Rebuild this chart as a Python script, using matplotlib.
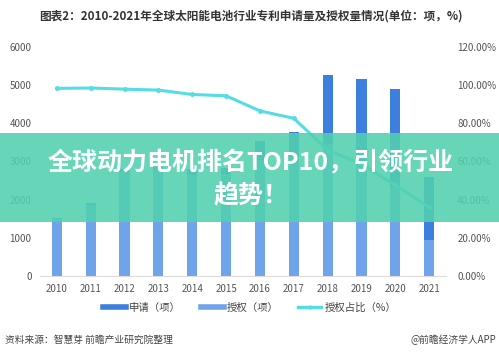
import numpy as np
import matplotlib.pyplot as plt
from matplotlib.patches import Rectangle
from matplotlib.lines import Line2D

plt.rcParams['font.family'] = ['Noto Sans CJK SC', 'DejaVu Sans']

years = ['2010', '2011', '2012', '2013', '2014', '2015', '2016', '2017', '2018', '2019', '2020', '2021']
applications = [1520, 1900, 2790, 2860, 2790, 2820, 3530, 3780, 5260, 5150, 4890, 2600]
grants = [1490, 1870, 2730, 2790, 2650, 2660, 3050, 3120, 3470, 3020, 2330, 940]
grant_ratio = [98.3, 98.5, 97.9, 97.4, 95.1, 94.4, 86.5, 82.6, 66.0, 58.6, 47.6, 36.0]

c_app = '#3d7fdc'
c_grant = '#6fa3ea'
c_line = '#55dce4'
c_text = '#555555'

fig = plt.figure(figsize=(4.99, 3.56), dpi=100)
ax = fig.add_axes([0.080, 0.225, 0.814, 0.643])
ax2 = ax.twinx()

x = np.arange(len(years))
w = 0.3
ax.bar(x, applications, width=w, color=c_app, zorder=2)
ax.bar(x, grants, width=w, color=c_grant, zorder=3)
ax2.plot(x, np.array(grant_ratio) / 100, color=c_line, lw=2.2, marker='o', ms=2.5, zorder=4)

ax.set_xlim(-0.5, len(years) - 0.5)
ax.set_ylim(0, 6000)
ax.set_yticks(range(0, 6001, 1000))
ax2.set_ylim(0, 1.2)
ax2.set_yticks(np.arange(0, 1.21, 0.2))
ax2.set_yticklabels([f'{v*100:.2f}%' for v in np.arange(0, 1.21, 0.2)])
ax.set_xticks(x)
ax.set_xticklabels(years)

for a in (ax, ax2):
    for s in ('top', 'left', 'right'):
        a.spines[s].set_visible(False)
    a.spines['bottom'].set_color('#dddddd')
    a.tick_params(length=0, labelsize=7, colors=c_text)
ax.tick_params(axis='x', pad=6)
ax.tick_params(axis='y', pad=6)
ax2.tick_params(axis='y', pad=8)

handles = [Line2D([0], [0], color=c_app, lw=4),
           Line2D([0], [0], color=c_grant, lw=4),
           Line2D([0], [0], color=c_line, lw=2.5, marker='o', ms=2)]
fig.legend(handles, ['申请（项）', '授权（项）', '授权占比（%）'], loc='center',
           bbox_to_anchor=(0.5, 0.135), ncol=3, frameon=False, fontsize=7.5,
           handlelength=2.2, columnspacing=1.9, handletextpad=0.3, labelcolor='#444444')

fig.text(0.502, 0.955, '图表2：2010-2021年全球太阳能电池行业专利申请量及授权量情况(单位：项，%)',
         ha='center', va='center', fontsize=8.4, fontweight='bold', color='#333333')
fig.text(0.01, 0.045, '资料来源：智慧芽 前瞻产业研究院整理', ha='left', va='center',
         fontsize=7, color='#444444')
fig.text(0.995, 0.045, '@前瞻经济学人APP', ha='right', va='center', fontsize=7, color='#444444')

# green banner overlay
fig.patches.append(Rectangle((0, 1 - 222 / 356), 1, (222 - 133) / 356, transform=fig.transFigure,
                             facecolor='#52d0ae', alpha=0.88, edgecolor='none', zorder=10))
fig.text(0.503, 1 - 162 / 356, '全球动力电机排名TOP10，引领行业', ha='center', va='center',
         fontsize=18, fontweight='heavy', color='white', zorder=11)
fig.text(0.503, 1 - 196 / 356, '趋势！', ha='center', va='center',
         fontsize=18, fontweight='heavy', color='white', zorder=11)

fig.savefig('out.png', dpi=100)
